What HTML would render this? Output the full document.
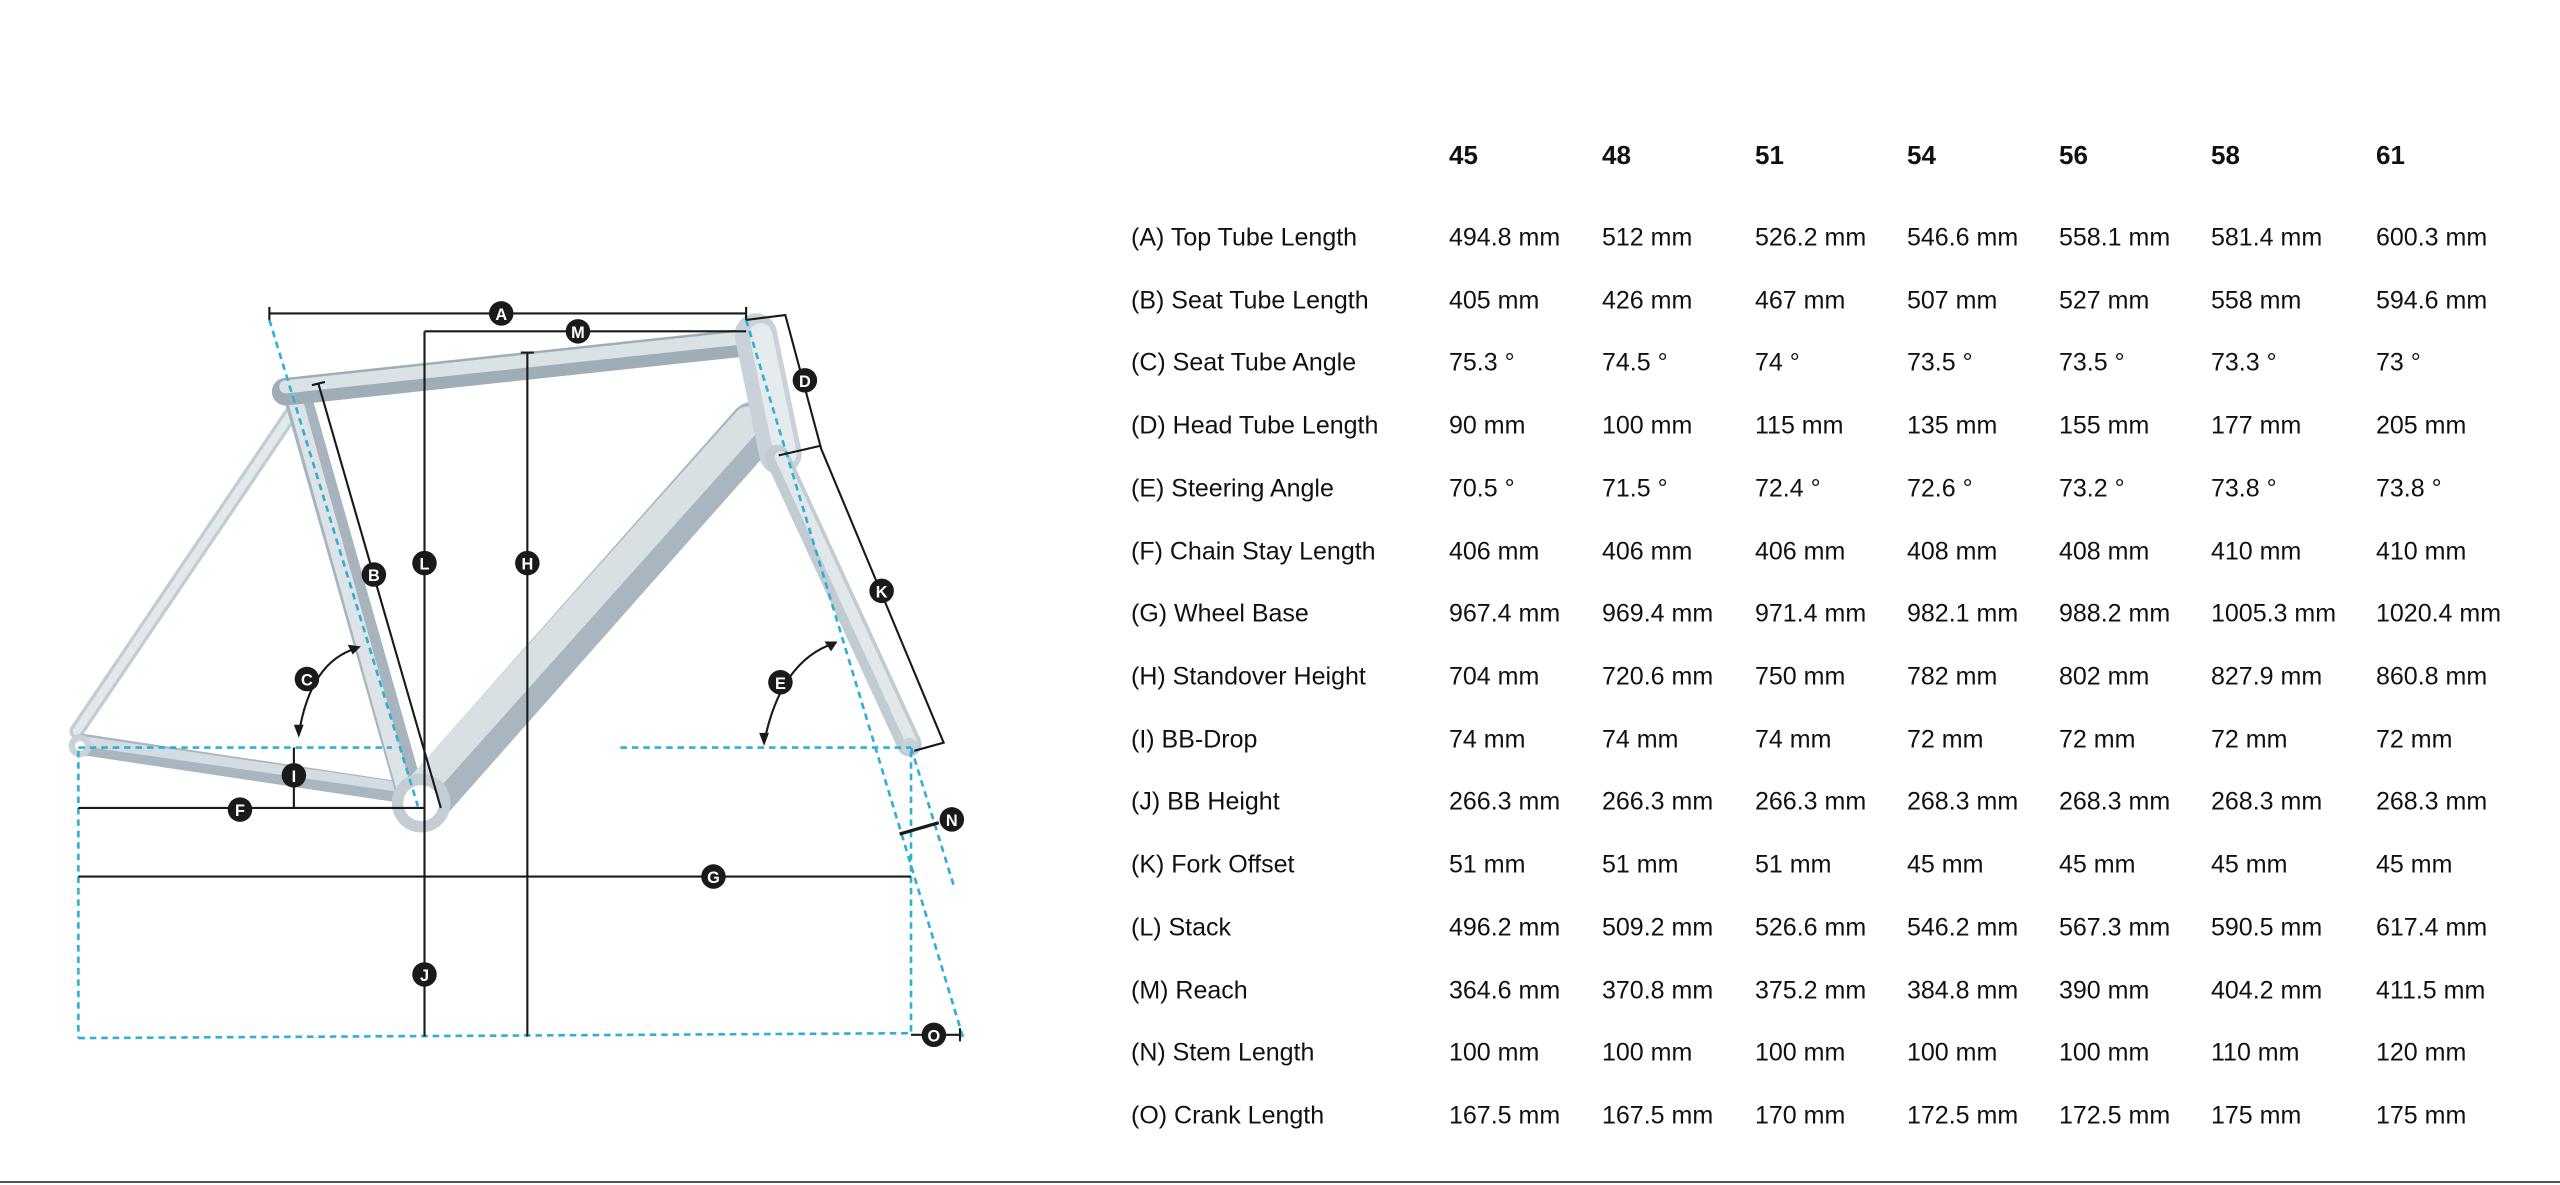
<!DOCTYPE html>
<html><head><meta charset="utf-8"><style>
html,body{margin:0;padding:0;background:#fff;width:2560px;height:1185px;overflow:hidden;position:relative;font-family:"Liberation Sans",sans-serif;color:#111}
svg{position:absolute;left:0;top:0}
.t{position:absolute;font-size:25px;white-space:nowrap;line-height:1;transform:translateY(-50%)}
.h{font-weight:bold;font-size:26px}
.rule{position:absolute;left:0;top:1181px;width:2560px;height:2px;background:#555}
</style></head><body>
<svg width="2560" height="1185" viewBox="0 0 1568 726" preserveAspectRatio="none">
<g stroke-linecap="round" stroke-linejoin="round" fill="none">
<!-- seat stay -->
<path d="M182 248 L47 448" stroke="#c3ccd2" stroke-width="9"/>
<path d="M182 248 L47 448" stroke="#e3e8eb" stroke-width="5"/>
<!-- chain stay -->
<path d="M50 456 L250 486" stroke="#a9b6bf" stroke-width="13"/>
<path d="M50 454 L250 483" stroke="#d5dce1" stroke-width="6"/>
<!-- seat tube -->
<path d="M182 242 L250 482" stroke="#a7b4bd" stroke-width="17"/>
<path d="M180 242 L247 482" stroke="#dde3e7" stroke-width="9"/>
<!-- down tube -->
<path d="M462 262 L262 488" stroke="#a9b6bf" stroke-width="32"/>
<path d="M458 258 L256 484" stroke="#d9e0e4" stroke-width="18"/>
<!-- top tube -->
<path d="M175 240 L455 210" stroke="#9fadb7" stroke-width="17"/>
<path d="M175 237 L455 207" stroke="#dbe2e6" stroke-width="8"/>
<!-- head tube -->
<path d="M463 205 L478 278" stroke="#c9d2d8" stroke-width="26"/>
<path d="M466 205 L481 278" stroke="#e6ebee" stroke-width="14"/>
<!-- fork -->
<path d="M476 280 L557 456" stroke="#c1cbd2" stroke-width="15"/>
<path d="M478 280 L558 454" stroke="#e1e7ea" stroke-width="7"/>
</g>
<circle cx="258" cy="492" r="18" fill="#c4cdd3"/><circle cx="258" cy="492" r="11" fill="#fff"/>
<circle cx="49" cy="457" r="7" fill="#c9d2d8"/><circle cx="49" cy="457" r="3" fill="#fff"/>
<circle cx="557" cy="457" r="5" fill="#c9d2d8"/>
<g stroke="#2fb0d3" stroke-width="1.6" stroke-dasharray="4 3" fill="none">
<path d="M165 196 L256 494"/>
<path d="M457 196 L590 636"/>
<path d="M558 458 L584 542"/>
<path d="M48 458 L240 458"/><path d="M380 458 L558 458"/>
<path d="M48 460 L48 636"/><path d="M558 460 L558 634"/>
<path d="M48 636 L558 633"/>
</g>
<g stroke="#1a1a1a" stroke-width="1.3" fill="none">
<path d="M165 192 L457 192 M165 188 L165 196 M457 188 L457 196"/>
<path d="M260 203 L457 203 M260 203 L260 635"/>
<path d="M323 216 L323 635 M319 216 L327 216"/>
<path d="M457 196 L481 193 L503 275 L578 455 L560 460"/>
<path d="M477 279 L503 273"/>
<path d="M195 235 L270 495 M191 236 L199 234"/>
<path d="M180 458 L180 495 M176 469 L184 469"/>
<path d="M48 495 L260 495"/>
<path d="M48 537 L558 537"/>
<path d="M551 511 L575 504" stroke-width="2"/>
<path d="M558 634 L588 634 M588 630 L588 638"/>
<path d="M219 397 Q190 405 183 450"/>
<path d="M511 394 Q478 405 468 455"/>
</g>
<g fill="#1a1a1a"><path d="M183 452 L180 444 L186 444Z"/><path d="M221 396 L213 395 L216 401Z"/><path d="M468 457 L465 449 L471 449Z"/><path d="M513 393 L505 393 L509 399Z"/></g>
<g font-family="Liberation Sans,sans-serif" font-size="10" font-weight="bold" fill="#fff" text-anchor="middle">
<g fill="#1a1a1a">
<circle cx="307" cy="192" r="7.5"/><circle cx="354" cy="203" r="7.5"/><circle cx="493" cy="233" r="7.5"/>
<circle cx="540" cy="362" r="7.5"/><circle cx="260" cy="345" r="7.5"/><circle cx="323" cy="345" r="7.5"/>
<circle cx="229" cy="352" r="7.5"/><circle cx="188" cy="416" r="7.5"/><circle cx="478" cy="418" r="7.5"/>
<circle cx="180" cy="475" r="7.5"/><circle cx="147" cy="496" r="7.5"/><circle cx="437" cy="537" r="7.5"/>
<circle cx="260" cy="597" r="7.5"/><circle cx="583" cy="502" r="7.5"/><circle cx="572" cy="634" r="7.5"/>
</g>
<text x="307" y="196">A</text><text x="354" y="207">M</text><text x="493" y="237">D</text>
<text x="540" y="366">K</text><text x="260" y="349">L</text><text x="323" y="349">H</text>
<text x="229" y="356">B</text><text x="188" y="420">C</text><text x="478" y="422">E</text>
<text x="180" y="479">I</text><text x="147" y="500">F</text><text x="437" y="541">G</text>
<text x="260" y="601">J</text><text x="583" y="506">N</text><text x="572" y="638">O</text>
</g>
</svg>
<div class="t h" style="left:1449px;top:155px">45</div>
<div class="t h" style="left:1602px;top:155px">48</div>
<div class="t h" style="left:1755px;top:155px">51</div>
<div class="t h" style="left:1907px;top:155px">54</div>
<div class="t h" style="left:2059px;top:155px">56</div>
<div class="t h" style="left:2211px;top:155px">58</div>
<div class="t h" style="left:2376px;top:155px">61</div>
<div class="t" style="left:1131px;top:238px">(A) Top Tube Length</div><div class="t" style="left:1449px;top:238px">494.8 mm</div><div class="t" style="left:1602px;top:238px">512 mm</div><div class="t" style="left:1755px;top:238px">526.2 mm</div><div class="t" style="left:1907px;top:238px">546.6 mm</div><div class="t" style="left:2059px;top:238px">558.1 mm</div><div class="t" style="left:2211px;top:238px">581.4 mm</div><div class="t" style="left:2376px;top:238px">600.3 mm</div>
<div class="t" style="left:1131px;top:301px">(B) Seat Tube Length</div><div class="t" style="left:1449px;top:301px">405 mm</div><div class="t" style="left:1602px;top:301px">426 mm</div><div class="t" style="left:1755px;top:301px">467 mm</div><div class="t" style="left:1907px;top:301px">507 mm</div><div class="t" style="left:2059px;top:301px">527 mm</div><div class="t" style="left:2211px;top:301px">558 mm</div><div class="t" style="left:2376px;top:301px">594.6 mm</div>
<div class="t" style="left:1131px;top:363px">(C) Seat Tube Angle</div><div class="t" style="left:1449px;top:363px">75.3 °</div><div class="t" style="left:1602px;top:363px">74.5 °</div><div class="t" style="left:1755px;top:363px">74 °</div><div class="t" style="left:1907px;top:363px">73.5 °</div><div class="t" style="left:2059px;top:363px">73.5 °</div><div class="t" style="left:2211px;top:363px">73.3 °</div><div class="t" style="left:2376px;top:363px">73 °</div>
<div class="t" style="left:1131px;top:426px">(D) Head Tube Length</div><div class="t" style="left:1449px;top:426px">90 mm</div><div class="t" style="left:1602px;top:426px">100 mm</div><div class="t" style="left:1755px;top:426px">115 mm</div><div class="t" style="left:1907px;top:426px">135 mm</div><div class="t" style="left:2059px;top:426px">155 mm</div><div class="t" style="left:2211px;top:426px">177 mm</div><div class="t" style="left:2376px;top:426px">205 mm</div>
<div class="t" style="left:1131px;top:489px">(E) Steering Angle</div><div class="t" style="left:1449px;top:489px">70.5 °</div><div class="t" style="left:1602px;top:489px">71.5 °</div><div class="t" style="left:1755px;top:489px">72.4 °</div><div class="t" style="left:1907px;top:489px">72.6 °</div><div class="t" style="left:2059px;top:489px">73.2 °</div><div class="t" style="left:2211px;top:489px">73.8 °</div><div class="t" style="left:2376px;top:489px">73.8 °</div>
<div class="t" style="left:1131px;top:552px">(F) Chain Stay Length</div><div class="t" style="left:1449px;top:552px">406 mm</div><div class="t" style="left:1602px;top:552px">406 mm</div><div class="t" style="left:1755px;top:552px">406 mm</div><div class="t" style="left:1907px;top:552px">408 mm</div><div class="t" style="left:2059px;top:552px">408 mm</div><div class="t" style="left:2211px;top:552px">410 mm</div><div class="t" style="left:2376px;top:552px">410 mm</div>
<div class="t" style="left:1131px;top:614px">(G) Wheel Base</div><div class="t" style="left:1449px;top:614px">967.4 mm</div><div class="t" style="left:1602px;top:614px">969.4 mm</div><div class="t" style="left:1755px;top:614px">971.4 mm</div><div class="t" style="left:1907px;top:614px">982.1 mm</div><div class="t" style="left:2059px;top:614px">988.2 mm</div><div class="t" style="left:2211px;top:614px">1005.3 mm</div><div class="t" style="left:2376px;top:614px">1020.4 mm</div>
<div class="t" style="left:1131px;top:677px">(H) Standover Height</div><div class="t" style="left:1449px;top:677px">704 mm</div><div class="t" style="left:1602px;top:677px">720.6 mm</div><div class="t" style="left:1755px;top:677px">750 mm</div><div class="t" style="left:1907px;top:677px">782 mm</div><div class="t" style="left:2059px;top:677px">802 mm</div><div class="t" style="left:2211px;top:677px">827.9 mm</div><div class="t" style="left:2376px;top:677px">860.8 mm</div>
<div class="t" style="left:1131px;top:740px">(I) BB-Drop</div><div class="t" style="left:1449px;top:740px">74 mm</div><div class="t" style="left:1602px;top:740px">74 mm</div><div class="t" style="left:1755px;top:740px">74 mm</div><div class="t" style="left:1907px;top:740px">72 mm</div><div class="t" style="left:2059px;top:740px">72 mm</div><div class="t" style="left:2211px;top:740px">72 mm</div><div class="t" style="left:2376px;top:740px">72 mm</div>
<div class="t" style="left:1131px;top:802px">(J) BB Height</div><div class="t" style="left:1449px;top:802px">266.3 mm</div><div class="t" style="left:1602px;top:802px">266.3 mm</div><div class="t" style="left:1755px;top:802px">266.3 mm</div><div class="t" style="left:1907px;top:802px">268.3 mm</div><div class="t" style="left:2059px;top:802px">268.3 mm</div><div class="t" style="left:2211px;top:802px">268.3 mm</div><div class="t" style="left:2376px;top:802px">268.3 mm</div>
<div class="t" style="left:1131px;top:865px">(K) Fork Offset</div><div class="t" style="left:1449px;top:865px">51 mm</div><div class="t" style="left:1602px;top:865px">51 mm</div><div class="t" style="left:1755px;top:865px">51 mm</div><div class="t" style="left:1907px;top:865px">45 mm</div><div class="t" style="left:2059px;top:865px">45 mm</div><div class="t" style="left:2211px;top:865px">45 mm</div><div class="t" style="left:2376px;top:865px">45 mm</div>
<div class="t" style="left:1131px;top:928px">(L) Stack</div><div class="t" style="left:1449px;top:928px">496.2 mm</div><div class="t" style="left:1602px;top:928px">509.2 mm</div><div class="t" style="left:1755px;top:928px">526.6 mm</div><div class="t" style="left:1907px;top:928px">546.2 mm</div><div class="t" style="left:2059px;top:928px">567.3 mm</div><div class="t" style="left:2211px;top:928px">590.5 mm</div><div class="t" style="left:2376px;top:928px">617.4 mm</div>
<div class="t" style="left:1131px;top:991px">(M) Reach</div><div class="t" style="left:1449px;top:991px">364.6 mm</div><div class="t" style="left:1602px;top:991px">370.8 mm</div><div class="t" style="left:1755px;top:991px">375.2 mm</div><div class="t" style="left:1907px;top:991px">384.8 mm</div><div class="t" style="left:2059px;top:991px">390 mm</div><div class="t" style="left:2211px;top:991px">404.2 mm</div><div class="t" style="left:2376px;top:991px">411.5 mm</div>
<div class="t" style="left:1131px;top:1053px">(N) Stem Length</div><div class="t" style="left:1449px;top:1053px">100 mm</div><div class="t" style="left:1602px;top:1053px">100 mm</div><div class="t" style="left:1755px;top:1053px">100 mm</div><div class="t" style="left:1907px;top:1053px">100 mm</div><div class="t" style="left:2059px;top:1053px">100 mm</div><div class="t" style="left:2211px;top:1053px">110 mm</div><div class="t" style="left:2376px;top:1053px">120 mm</div>
<div class="t" style="left:1131px;top:1116px">(O) Crank Length</div><div class="t" style="left:1449px;top:1116px">167.5 mm</div><div class="t" style="left:1602px;top:1116px">167.5 mm</div><div class="t" style="left:1755px;top:1116px">170 mm</div><div class="t" style="left:1907px;top:1116px">172.5 mm</div><div class="t" style="left:2059px;top:1116px">172.5 mm</div><div class="t" style="left:2211px;top:1116px">175 mm</div><div class="t" style="left:2376px;top:1116px">175 mm</div>
<div class="rule"></div>
</body></html>
